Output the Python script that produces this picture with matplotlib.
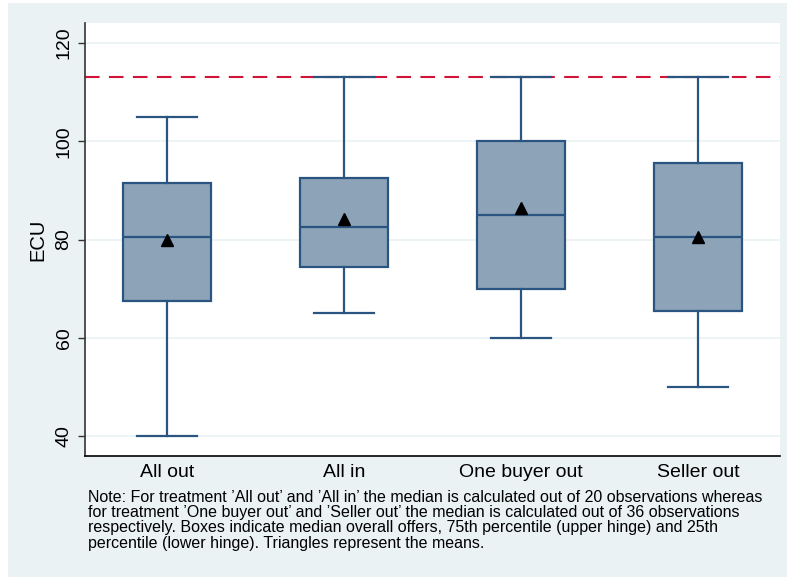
import matplotlib
matplotlib.use("Agg")
import matplotlib.pyplot as plt
from matplotlib.patches import Rectangle

plt.rcParams['font.family'] = ['Liberation Sans', 'DejaVu Sans']

# Offer distributions per treatment (ECU)
treatments = ["All out", "All in", "One buyer out", "Seller out"]
whisker_low = [40, 65, 60, 50]
q1 = [67.5, 74.5, 70, 65.5]
medians = [80.5, 82.5, 85, 80.5]
q3 = [91.5, 92.5, 100, 95.5]
whisker_high = [105, 113, 113, 113]
means = [79.8, 84.2, 86.5, 80.6]
reference_level = 113
yticks = [40, 60, 80, 100, 120]

note = ("Note: For treatment \u2019All out\u2019 and \u2019All in\u2019 the median is calculated out of 20 observations whereas\n"
        "for treatment \u2019One buyer out\u2019 and \u2019Seller out\u2019 the median is calculated out of 36 observations\n"
        "respectively. Boxes indicate median overall offers, 75th percentile (upper hinge) and 25th\n"
        "percentile (lower hinge). Triangles represent the means.")

bg = "#EAF2F3"
box_fill = "#8DA3B8"
box_edge = "#2A5580"

fig = plt.figure(figsize=(7.87, 5.77), dpi=100)
fig.patch.set_facecolor("white")
fig.patches.append(Rectangle((8 / 787, 0), 1 - 8 / 787, 1 - 3 / 577,
                             transform=fig.transFigure, facecolor=bg,
                             edgecolor="none", zorder=-10))

ax = fig.add_axes([85 / 787, 1 - 456 / 577, (780 - 85) / 787, (456 - 23) / 577])
ax.set_facecolor("white")

positions = list(range(1, len(treatments) + 1))
stats = []
for i, name in enumerate(treatments):
    stats.append(dict(label=name, whislo=whisker_low[i], q1=q1[i], med=medians[i],
                      q3=q3[i], whishi=whisker_high[i], fliers=[]))

ax.axhline(reference_level, color="#CF1437", lw=1.5, dashes=(7, 4.5), zorder=1)

ax.bxp(stats, positions=positions, widths=0.5, capwidths=0.335, patch_artist=True,
       showfliers=False, zorder=3,
       boxprops=dict(facecolor=box_fill, edgecolor=box_edge, linewidth=1.6),
       medianprops=dict(color=box_edge, linewidth=1.6),
       whiskerprops=dict(color=box_edge, linewidth=1.6),
       capprops=dict(color=box_edge, linewidth=1.6))

ax.plot(positions, means, linestyle="none", marker="^", color="black",
        markersize=8, zorder=5)

ax.set_xlim(0.537, 4.463)
ax.set_ylim(35.93, 124.07)
ax.set_yticks(yticks)
ax.set_yticklabels([str(v) for v in yticks], rotation=90, va="center", fontsize=14)
ax.set_xticks(positions)
ax.set_xticklabels(treatments, fontsize=14)
ax.tick_params(axis="x", length=0, pad=6)
ax.tick_params(axis="y", length=5, width=1, color="#333333", pad=4)
ax.yaxis.grid(True, color=bg, linewidth=1.2)
ax.set_axisbelow(True)
ax.set_ylabel("ECU", fontsize=14.5, labelpad=6)

for side in ("top", "right"):
    ax.spines[side].set_visible(False)
ax.spines["left"].set_color("#333333")
ax.spines["bottom"].set_color("black")
ax.spines["left"].set_linewidth(1.2)
ax.spines["bottom"].set_linewidth(1.2)

fig.text(88 / 787, 1 - 490 / 577, note, fontsize=11.5, va="top", ha="left",
         linespacing=1.02)

fig.savefig("out.png", dpi=100, facecolor=fig.get_facecolor())
